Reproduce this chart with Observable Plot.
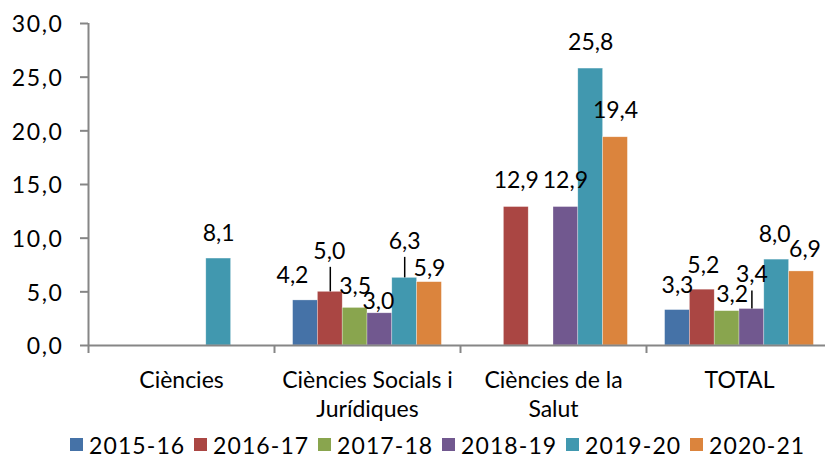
<!DOCTYPE html>
<html>
<head>
<meta charset="utf-8">
<script src="https://cdn.jsdelivr.net/npm/d3@7"></script>
<script src="https://cdn.jsdelivr.net/npm/@observablehq/plot@0.6"></script>
<style>
  html, body { margin: 0; padding: 0; background: #fff; overflow: hidden; }
  body { width: 825px; height: 459px; font-family: Lato, "Open Sans", sans-serif; }
  #chart svg { display: block; }
  #chart g[aria-label="y-axis tick label"] text { letter-spacing: 1.6px; }
  #chart g.cat-labels text { letter-spacing: 0.6px; }
  #legend { display: flex; align-items: center; height: 29px; margin-left: 70px; font-size: 23px; letter-spacing: 1.1px; color: #000; white-space: nowrap; }
  .item { display: flex; align-items: center; width: 124px; flex: none; white-space: nowrap; }
  .sw { width: 13px; height: 13px; margin-right: 6px; flex: none; }
</style>
</head>
<body>
<div id="chart"></div>
<div id="legend"></div>
<script>
// ---- data ----
const categories = ["Ciències", "Ciències Socials i Jurídiques", "Ciències de la Salut", "TOTAL"];
const categoryLabels = ["Ciències", "Ciències Socials i\nJurídiques", "Ciències de la\nSalut", "TOTAL"];
const series = ["2015-16", "2016-17", "2017-18", "2018-19", "2019-20", "2020-21"];
const v2015_16 = [null, 4.2, null, 3.3];
const v2016_17 = [null, 5.0, 12.9, 5.2];
const v2017_18 = [null, 3.5, null, 3.2];
const v2018_19 = [null, 3.0, 12.9, 3.4];
const v2019_20 = [8.1, 6.3, 25.8, 8.0];
const v2020_21 = [null, 5.9, 19.4, 6.9];
const yTicks = [0, 5, 10, 15, 20, 25, 30];

// ---- style / layout ----
const colors = ["#4572A7", "#AA4643", "#89A54E", "#71588F", "#4198AF", "#DB843D"];
const gray = "#868686";
const W = 825, H = 430;
const xRange = [88, 832], yRange = [345, 23];
const groupPad = 0.75; // in bar widths, each side of a group
// label nudges: [dx px, lift px above bar top (label centre)], leader line flag
const labelNudge = {
  "1-0": [-13, 25], "1-1": [-1, 40.5, true], "1-2": [0, 21.5], "1-3": [-1.5, 11.5],
  "1-4": [0, 36.5, true], "1-5": [0, 13.5],
  "2-1": [0, 26], "2-3": [-0.5, 26], "2-4": [0, 26], "2-5": [0, 27],
  "3-0": [0, 24.5], "3-1": [1, 24], "3-2": [5, 17], "3-3": [0, 34, true],
  "3-4": [-2, 25], "3-5": [3.5, 22]
};

const seriesValues = [v2015_16, v2016_17, v2017_18, v2018_19, v2019_20, v2020_21];
const slots = series.length + 2 * groupPad;
const rows = [];
seriesValues.forEach((vals, j) => vals.forEach((v, i) => {
  if (v == null) return;
  const x1 = i + (groupPad + j) / slots;
  rows.push({category: categories[i], ci: i, series: series[j], sj: j, value: v, x1, x2: x1 + 1 / slots});
}));

const xS = Plot.scale({x: {domain: [0, categories.length], range: xRange}});
const yS = Plot.scale({y: {domain: [0, 30], range: yRange}});

const labels = rows.map(d => {
  const [dx, lift, leader] = labelNudge[`${d.ci}-${d.sj}`] || [0, 25];
  const cx = xS.apply((d.x1 + d.x2) / 2);
  const top = yS.apply(d.value);
  return {...d, lx: xS.invert(cx + dx), ly: yS.invert(top - lift),
          leader, ry2: yS.invert(top - (lift - 16)), rx: (d.x1 + d.x2) / 2};
});
const fmt = v => v.toFixed(1).replace(".", ",");

const chart = Plot.plot({
  width: W, height: H,
  marginLeft: 88, marginRight: 0, marginTop: 23, marginBottom: H - 345,
  style: {fontFamily: "Lato, 'Open Sans', sans-serif", fontSize: "23px", color: "#000", background: "#fff"},
  x: {type: "linear", domain: [0, categories.length], range: xRange},
  y: {type: "linear", domain: [0, 30], range: yRange},
  color: {domain: series, range: colors},
  marks: [
    Plot.rectY(rows, {x1: "x1", x2: "x2", y: "value", fill: "series", stroke: "#fff", strokeOpacity: 0.5, strokeWidth: 0.6}),
    Plot.axisY({ticks: yTicks, tickSize: 8, text: null, stroke: gray, strokeWidth: 2}),
    Plot.axisY({ticks: yTicks, tickSize: 0, tickPadding: 25, tickFormat: fmt, fill: "#000", fontSize: 23, dy: 1.5}),
    Plot.axisX({ticks: d3.range(categories.length + 1), tickSize: 8, text: null, stroke: gray, strokeWidth: 2}),
    Plot.ruleX([0], {stroke: gray, strokeWidth: 2}),
    Plot.ruleY([0], {stroke: gray, strokeWidth: 2}),
    Plot.text(categoryLabels, {x: (d, i) => i + 0.5, y: 0, text: d => d, dy: 22, lineAnchor: "top", lineHeight: 1.26, fontSize: 23, fill: "#000", ariaLabel: "category labels"}),
    Plot.ruleX(labels.filter(d => d.leader), {x: "rx", y1: "value", y2: "ry2", stroke: "#000", strokeWidth: 1.5}),
    Plot.text(labels, {x: "lx", y: "ly", text: d => fmt(d.value), fontSize: 23, fill: "#000", lineAnchor: "middle"})
  ]
});
d3.select(chart).selectAll('g[aria-label="category labels"]').classed("cat-labels", true);
document.getElementById("chart").appendChild(chart);

const legend = document.getElementById("legend");
series.forEach((s, j) => {
  const it = document.createElement("div");
  it.className = "item";
  it.innerHTML = `<span class="sw" style="background:${colors[j]}"></span><span>${s}</span>`;
  legend.appendChild(it);
});
</script>
</body>
</html>
